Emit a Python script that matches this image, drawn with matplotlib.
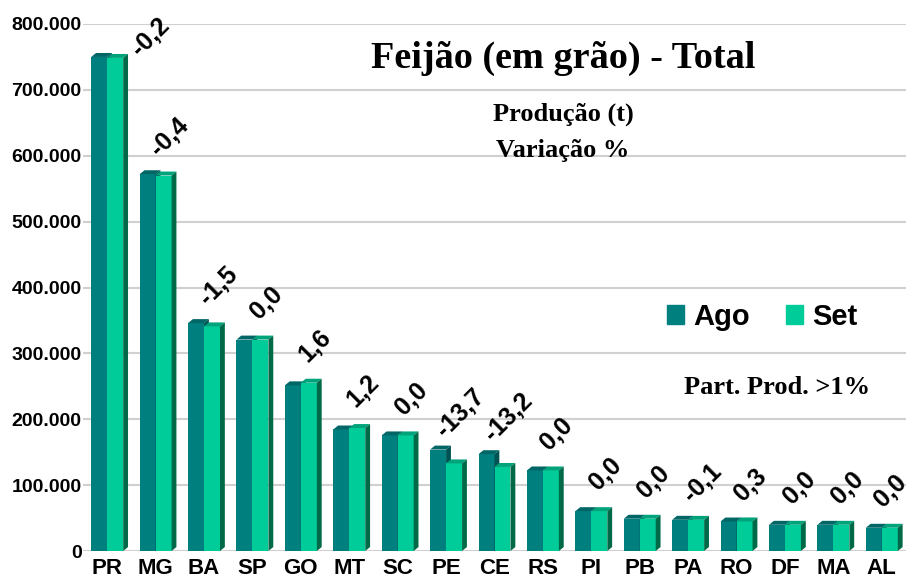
import matplotlib
matplotlib.use("Agg")
import matplotlib.pyplot as plt
from matplotlib.patches import Polygon, Patch
from matplotlib.ticker import FuncFormatter
import numpy as np

# production in tonnes
estados = ["PR", "MG", "BA", "SP", "GO", "MT", "SC", "PE", "CE", "RS",
           "PI", "PB", "PA", "RO", "DF", "MA", "AL"]
ago = [750000, 572000, 346000, 321000, 251500, 184500, 175500, 154000, 147000,
       122300, 60500, 49000, 47400, 44800, 39800, 39800, 35300]
set_ = [748500, 570000, 341000, 321000, 255500, 186700, 175500, 133000, 127600,
        122300, 60500, 49000, 47300, 44900, 39800, 39800, 35300]
variacao = ["-0,2", "-0,4", "-1,5", "0,0", "1,6", "1,2", "0,0", "-13,7", "-13,2",
            "0,0", "0,0", "0,0", "-0,1", "0,3", "0,0", "0,0", "0,0"]
yticks = [0, 100000, 200000, 300000, 400000, 500000, 600000, 700000, 800000]

c_ago, c_ago_top, c_ago_side = "#007f7f", "#006666", "#005252"
c_set, c_set_top, c_set_side = "#00cc99", "#00a37a", "#006a48"

fig = plt.figure(figsize=(9.09, 5.81), dpi=100)
ax = fig.add_axes([83 / 909, 1 - 551 / 581, 823 / 909, 527 / 581])

x = np.arange(len(estados))
w = 0.33      # front width of each bar
dx = 0.1      # fake depth
dy = 6000

ax.bar(x - w, ago, width=w, align="edge", color=c_ago, zorder=2)
ax.bar(x, set_, width=w, align="edge", color=c_set, zorder=4)

def caixa(x0, h, top, side, z):
    # top face and right face of a pseudo-3D column
    ax.add_patch(Polygon([(x0, h), (x0 + w, h), (x0 + w + dx, h + dy), (x0 + dx, h + dy)],
                         closed=True, color=top, zorder=z, lw=0))
    ax.add_patch(Polygon([(x0 + w, 0), (x0 + w + dx, dy), (x0 + w + dx, h + dy), (x0 + w, h)],
                         closed=True, color=side, zorder=z, lw=0))

for i in range(len(estados)):
    caixa(x[i] - w, ago[i], c_ago_top, c_ago_side, 3)
    caixa(x[i], set_[i], c_set_top, c_set_side, 5)

# variation labels, rotated above each pair
for i, lab in enumerate(variacao):
    topo = max(ago[i], set_[i])
    ly = topo + 56000
    lx = min(x[i] + 0.29, len(estados) - 0.5 - 0.33)
    if ly > 781000:
        # no room above: slide it down and to the right
        excesso = (ly - 781000) * 65.8 / 100000
        ly = 781000
        lx += excesso * 1.8 / 48.4
    ax.text(lx, ly, lab, rotation=45, ha="center", va="center",
            fontsize=18, fontweight="bold", family="Liberation Sans", zorder=6)

ax.set_xlim(-0.5, len(estados) - 0.5)
ax.set_ylim(0, 800000)
ax.set_yticks(yticks)
ax.yaxis.set_major_formatter(FuncFormatter(lambda v, p: "0" if v == 0 else f"{int(v):,}".replace(",", ".")))
ax.set_xticks(x)
ax.set_xticklabels(estados)
for t in ax.get_xticklabels():
    t.set_fontsize(16)
    t.set_fontweight("bold")
    t.set_family("Liberation Sans")
for t in ax.get_yticklabels():
    t.set_fontsize(14)
    t.set_fontweight("bold")
    t.set_family("Liberation Sans")
ax.tick_params(axis="both", length=0)
ax.tick_params(axis="y", pad=1)
ax.tick_params(axis="x", pad=5)
ax.grid(axis="y", color="#d0d0d0", lw=1.5, zorder=0)
ax.set_axisbelow(True)
for s in ax.spines.values():
    s.set_visible(False)

fig.text(563 / 909, 1 - 58 / 581, "Feijão (em grão) - Total", ha="center", va="center",
         fontsize=27.5, fontweight="bold", family="Liberation Serif")
fig.text(563 / 909, 1 - 114 / 581, "Produção (t)", ha="center", va="center",
         fontsize=19, fontweight="bold", family="Liberation Serif")
fig.text(563 / 909, 1 - 151 / 581, "Variação %", ha="center", va="center",
         fontsize=19, fontweight="bold", family="Liberation Serif")
fig.text(777 / 909, 1 - 387 / 581, "Part. Prod. >1%", ha="center", va="center",
         fontsize=19, fontweight="bold", family="Liberation Serif")

handles = [Patch(color=c_ago, label="Ago"), Patch(color=c_set, label="Set")]
ax.legend(handles=handles, loc="center", bbox_to_anchor=((762 - 83) / 823, (551 - 317) / 527),
          ncol=2, frameon=False, handlelength=0.6, handleheight=0.6, handletextpad=0.3,
          columnspacing=1.25, prop={"family": "Liberation Sans", "weight": "bold", "size": 21})

fig.savefig("out.png", dpi=100)
